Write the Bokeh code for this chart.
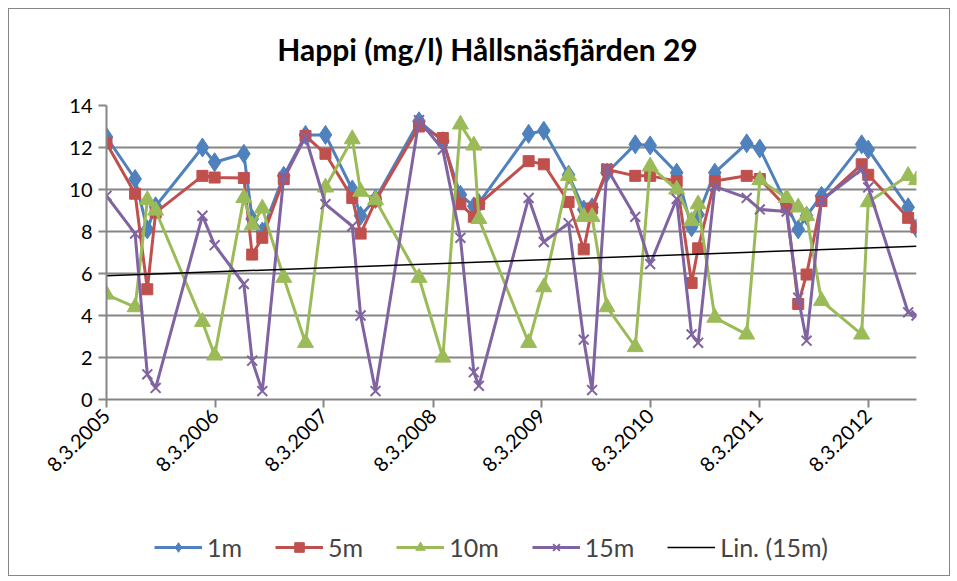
import numpy as np
import pandas as pd
from bokeh.plotting import figure
from bokeh.layouts import column
from bokeh.models import Range1d, FixedTicker, Legend, LegendItem, Label
from bokeh.embed import file_html
from bokeh.resources import INLINE

# ---- data -------------------------------------------------------------
dates = ["2005-03-08", "2005-06-12", "2005-07-23", "2005-08-20",
         "2006-01-24", "2006-03-06", "2006-06-12", "2006-07-10", "2006-08-13", "2006-10-24",
         "2007-01-05", "2007-03-13", "2007-06-11", "2007-07-09", "2007-08-28",
         "2008-01-21", "2008-04-10", "2008-06-08", "2008-07-23", "2008-08-09",
         "2009-01-23", "2009-03-15", "2009-06-06", "2009-07-27", "2009-08-24", "2009-10-13",
         "2010-01-16", "2010-03-07", "2010-06-04", "2010-07-24", "2010-08-15", "2010-10-10",
         "2011-01-25", "2011-03-10", "2011-06-08", "2011-07-17", "2011-08-14", "2011-10-03",
         "2012-02-15", "2012-03-08", "2012-07-20", "2012-08-17"]

m1 = [12.5, 10.5, 8.1, 9.2,
      12.0, 11.3, 11.7, 8.6, 8.0, 10.65,
      12.6, 12.6, 10.0, 8.75, 9.55,
      13.25, 12.3, 9.75, 9.2, 9.35,
      12.65, 12.8, 10.7, 9.05, 9.15, 10.8,
      12.15, 12.1, 10.8, 8.2, 8.8, 10.8,
      12.2, 11.95, 9.3, 8.1, 8.75, 9.7,
      12.15, 11.9, 9.15, 8.15]

m5 = [12.2, 9.8, 5.25, 8.9,
      10.65, 10.57, 10.55, 6.9, 7.7, 10.5,
      12.55, 11.7, 9.6, 7.9, 9.45,
      13.0, 12.45, 9.3, 8.7, 9.3,
      11.35, 11.2, 9.4, 7.15, 9.1, 10.95,
      10.65, 10.65, 10.4, 5.55, 7.2, 10.4,
      10.65, 10.5, 9.15, 4.55, 5.95, 9.45,
      11.2, 10.7, 8.65, 8.2]

m10 = [5.0, 4.4, 9.5, 9.0,
       3.7, 2.1, 9.6, 8.3, 9.1, 5.8,
       2.7, 10.1, 12.4, 9.9, 9.5,
       5.8, 2.0, 13.1, 12.1, 8.6,
       2.7, 5.35, 10.65, 8.7, 8.7, 4.4,
       2.5, 11.1, 10.0, 8.5, 9.3, 3.9,
       3.1, 10.45, 9.6, 9.15, 8.75, 4.7,
       3.1, 9.4, 10.65, 10.45]

m15 = [9.7, 7.9, 1.2, 0.55,
       8.75, 7.35, 5.5, 1.85, 0.4, 10.6,
       12.5, 9.3, 8.25, 4.0, 0.4,
       13.3, 11.9, 7.7, 1.3, 0.65,
       9.6, 7.5, 8.4, 2.85, 0.45, 11.0,
       8.7, 6.45, 9.55, 3.1, 2.7, 10.15,
       9.6, 9.05, 8.95, 4.85, 2.8, 9.5,
       10.95, 10.1, 4.15, 4.0]

tick_dates = ["2005-03-08", "2006-03-08", "2007-03-08", "2008-03-08",
              "2009-03-08", "2010-03-08", "2011-03-08", "2012-03-08"]
tick_labels = ["8.3.2005", "8.3.2006", "8.3.2007", "8.3.2008",
               "8.3.2009", "8.3.2010", "8.3.2011", "8.3.2012"]
y_ticks = [0, 2, 4, 6, 8, 10, 12, 14]

series_names = ["1m", "5m", "10m", "15m"]
series_colors = ["#4F81BD", "#C0504D", "#9BBB59", "#8064A2"]
trend_label = "Lin. (15m)"
title_text = "Happi (mg/l) Hållsnäsfjärden 29"

# ---- build -------------------------------------------------------------
x = pd.to_datetime(dates)
x_ms = (x.astype("int64") // 10**6).to_numpy().astype(float)
tick_ms = [float(pd.Timestamp(d).value // 10**6) for d in tick_dates]

FONT = "Lato"
GRID = "#868686"
W = 940


def bare(fig):
    fig.outline_line_color = None
    fig.xgrid.grid_line_color = None
    fig.ygrid.grid_line_color = None
    return fig


# title strip (frames of the column are aligned: strip frame starts 97px in)
pt = bare(figure(width=W, height=60, output_backend="svg", toolbar_location=None,
                 x_range=Range1d(0, 1), y_range=Range1d(0, 1),
                 x_axis_location=None, y_axis_location=None,
                 min_border_left=0, min_border_right=0, min_border_top=0, min_border_bottom=0))
pt.add_layout(Label(x=381, y=21, x_units="screen", y_units="screen", text=title_text,
                    text_align="center", text_baseline="middle", text_font=FONT,
                    text_font_size="30px", text_font_style="bold", text_color="black"))

# main chart
p = figure(width=W, height=440, x_axis_type="datetime",
           output_backend="svg", toolbar_location=None,
           min_border_left=97, min_border_right=33,
           min_border_top=36, min_border_bottom=110,
           x_range=Range1d(x_ms[0], x_ms[-1]), y_range=Range1d(0, 14))
p.outline_line_color = None
p.xgrid.grid_line_color = None
p.ygrid.grid_line_color = GRID
p.ygrid.grid_line_width = 2

p.yaxis.ticker = FixedTicker(ticks=y_ticks)
p.xaxis.ticker = FixedTicker(ticks=tick_ms)
p.xaxis.major_label_overrides = {t: l for t, l in zip(tick_ms, tick_labels)}
p.xaxis.major_label_orientation = np.pi / 4

for ax in (p.xaxis[0], p.yaxis[0]):
    ax.axis_line_color = GRID
    ax.axis_line_width = 2
    ax.major_tick_line_color = GRID
    ax.major_tick_line_width = 2
    ax.major_tick_in = 0
    ax.major_tick_out = 8
    ax.minor_tick_line_color = None
    ax.major_label_text_font = FONT
    ax.major_label_text_font_size = "20px"
    ax.major_label_text_color = "black"
p.yaxis.major_label_standoff = 6
p.xaxis.major_label_standoff = 5

values = [m1, m5, m10, m15]
markers = ["diamond", "square", "triangle", "x"]
sizes = [19, 11, 16, 14]
for vals, col, mk, sz in zip(values, series_colors, markers, sizes):
    p.line(x_ms, vals, line_color=col, line_width=3)
    if mk == "x":
        p.scatter(x_ms, vals, marker=mk, size=sz, line_color=col, line_width=2)
    else:
        p.scatter(x_ms, vals, marker=mk, size=sz, fill_color=col, line_color=col)

# linear trend of the 15m series
days = (x_ms - x_ms[0]) / 86400000.0
k, b = np.polyfit(days, np.array(m15), 1)
tx = [x_ms[0], x_ms[-1]]
ty = [b, b + k * days[-1]]
p.line(tx, ty, line_color="black", line_width=1.5)

# legend strip: sample glyphs only (NaN points, nothing is plotted)
pl = bare(figure(width=W, height=66, output_backend="svg", toolbar_location=None,
                 x_range=Range1d(0, 1), y_range=Range1d(0, 1),
                 x_axis_location=None, y_axis_location=None,
                 min_border_left=0, min_border_right=0, min_border_top=0, min_border_bottom=0))
nan = [float("nan")]
items = []
for name, col, mk, sz in zip(series_names, series_colors, markers, sizes):
    lr = pl.line(x=nan, y=nan, line_color=col, line_width=3)
    if mk == "x":
        sr = pl.scatter(x=nan, y=nan, marker=mk, size=sz, line_color=col, line_width=2)
    else:
        sr = pl.scatter(x=nan, y=nan, marker=mk, size=sz, fill_color=col, line_color=col)
    items.append(LegendItem(label=name, renderers=[lr, sr]))
trl = pl.line(x=nan, y=nan, line_color="black", line_width=1.5)
items.append(LegendItem(label=trend_label, renderers=[trl]))

legend = Legend(items=items, orientation="horizontal", location=(48, 13),
                label_text_font=FONT, label_text_font_size="25px",
                glyph_width=48, glyph_height=24, label_standoff=5, spacing=33,
                border_line_color=None, background_fill_alpha=0, margin=0, padding=4)
pl.add_layout(legend, "center")

layout = column(pt, p, pl, spacing=0,
                styles={"border": "1px solid #868686", "margin-left": "8px", "margin-top": "8px"})

open("out.html", "w").write(file_html(layout, INLINE))
